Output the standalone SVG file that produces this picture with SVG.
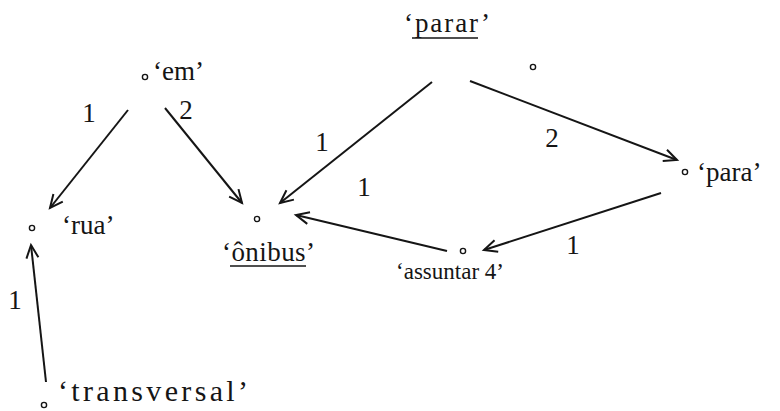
<svg xmlns="http://www.w3.org/2000/svg" width="780" height="411" viewBox="0 0 780 411">
<style>
.t{font-family:"Liberation Serif","Times New Roman",serif;font-size:27px;fill:#151515}
.n{fill:none;stroke:#151515;stroke-width:1.4}
.e{fill:none;stroke:#151515;stroke-width:2;marker-end:url(#ah)}
.u{stroke:#151515;stroke-width:1.6}
</style>
<defs>
<marker id="ah" markerUnits="userSpaceOnUse" markerWidth="20" markerHeight="20" viewBox="-15 -10 20 20" refX="0" refY="0" orient="auto">
<path d="M-13,-6 L0,0 L-13,6" fill="none" stroke="#151515" stroke-width="2"/>
</marker>
</defs>
<rect width="780" height="411" fill="#ffffff"/>
<g id="edges">
<line class="e" x1="128" y1="110" x2="50" y2="208"/>
<line class="e" x1="165" y1="108" x2="242" y2="203"/>
<line class="e" x1="432" y1="82" x2="280" y2="203"/>
<line class="e" x1="470" y1="81" x2="677" y2="160"/>
<line class="e" x1="661" y1="193" x2="484" y2="250"/>
<line class="e" x1="447" y1="251" x2="296" y2="215"/>
<line class="e" x1="46" y1="382" x2="31" y2="245"/>
<text class="t" x="89" y="122" text-anchor="middle">1</text>
<text class="t" x="186" y="119" text-anchor="middle">2</text>
<text class="t" x="322" y="151" text-anchor="middle">1</text>
<text class="t" x="552" y="147" text-anchor="middle">2</text>
<text class="t" x="364" y="196" text-anchor="middle">1</text>
<text class="t" x="573" y="254" text-anchor="middle">1</text>
<text class="t" x="15" y="309" text-anchor="middle">1</text>
</g>
<g id="em">
<circle class="n" cx="145" cy="77" r="2.6"/>
<text class="t" x="153" y="80">‘em’</text>
</g>
<g id="rua">
<circle class="n" cx="32" cy="228" r="2.6"/>
<text class="t" x="62" y="234">‘rua’</text>
</g>
<g id="onibus">
<circle class="n" cx="257" cy="219" r="2.6"/>
<text class="t" x="222" y="261" textLength="93" lengthAdjust="spacing">‘ônibus’</text>
<line class="u" x1="230" y1="266" x2="306" y2="266"/>
</g>
<g id="parar">
<text class="t" x="404" y="32" textLength="86" lengthAdjust="spacing">‘parar’</text>
<line class="u" x1="412" y1="38" x2="478" y2="38"/>
<circle class="n" cx="533" cy="67" r="2.6"/>
</g>
<g id="para">
<circle class="n" cx="685" cy="172" r="2.6"/>
<text class="t" x="697" y="181">‘para’</text>
</g>
<g id="assuntar">
<circle class="n" cx="463" cy="251" r="2.6"/>
<text class="t" x="450" y="279" text-anchor="middle" style="font-size:23px">‘assuntar 4’</text>
</g>
<g id="transversal">
<circle class="n" cx="44" cy="405" r="2.6"/>
<text class="t" x="58" y="401" style="font-size:30px" textLength="190" lengthAdjust="spacing">‘transversal’</text>
</g>
</svg>
